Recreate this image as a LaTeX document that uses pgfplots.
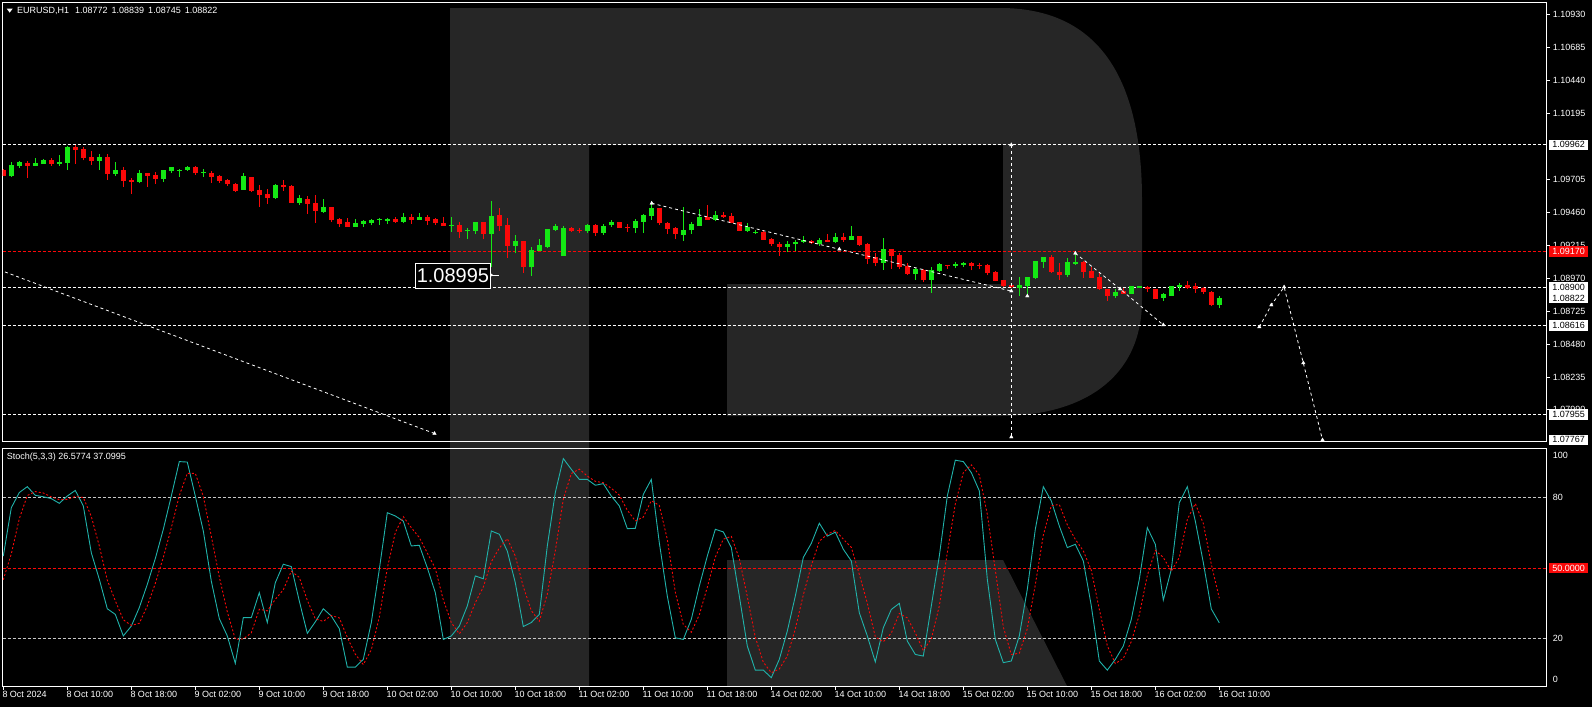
\documentclass[border=0pt]{standalone}
\usepackage{fontspec}
\setmainfont{Liberation Sans}
\usepackage{pgfplots}
\usepackage{pgfplotstable}
\pgfplotsset{compat=1.18}

\definecolor{bull}{RGB}{20,232,20}
\definecolor{bear}{RGB}{250,8,8}
\definecolor{stk}{RGB}{32,178,170}
\definecolor{wm}{RGB}{38,38,38}
\definecolor{lvl}{RGB}{200,200,200}

% EURUSD H1 candles, bar index from 8 Oct 02:00
\pgfplotstableread{
x o h l c
1 1.09728 1.09834 1.09723 1.09812
2 1.09805 1.09839 1.09792 1.09834
4 1.09807 1.09864 1.09807 1.09827
5 1.09822 1.09859 1.09822 1.09849
7 1.09822 1.09887 1.09807 1.09834
8 1.09827 1.09951 1.09777 1.09946
12 1.09842 1.09894 1.09777 1.09872
14 1.09748 1.09834 1.09733 1.09775
17 1.09688 1.09775 1.09676 1.09753
20 1.09710 1.09775 1.09688 1.09775
21 1.09770 1.09797 1.09755 1.09797
22 1.09772 1.09785 1.09725 1.09777
23 1.09777 1.09805 1.09770 1.09797
25 1.09753 1.09782 1.09725 1.09758
30 1.09629 1.09753 1.09629 1.09730
34 1.09567 1.09671 1.09559 1.09663
37 1.09532 1.09589 1.09517 1.09567
40 1.09465 1.09559 1.09457 1.09500
44 1.09353 1.09410 1.09353 1.09381
45 1.09376 1.09403 1.09353 1.09395
46 1.09383 1.09413 1.09363 1.09403
47 1.09403 1.09418 1.09368 1.09408
48 1.09398 1.09418 1.09376 1.09413
50 1.09390 1.09452 1.09378 1.09425
52 1.09405 1.09452 1.09405 1.09425
56 1.09363 1.09422 1.09316 1.09368
58 1.09321 1.09341 1.09264 1.09331
59 1.09321 1.09388 1.09301 1.09388
61 1.09301 1.09544 1.09055 1.09432
64 1.09212 1.09289 1.09155 1.09246
66 1.09050 1.09199 1.08986 1.09179
67 1.09172 1.09259 1.09172 1.09217
68 1.09202 1.09336 1.09194 1.09336
69 1.09328 1.09373 1.09323 1.09360
70 1.09137 1.09356 1.09137 1.09343
73 1.09321 1.09373 1.09308 1.09368
75 1.09306 1.09370 1.09294 1.09358
76 1.09363 1.09403 1.09353 1.09390
79 1.09346 1.09408 1.09308 1.09395
80 1.09390 1.09450 1.09308 1.09440
81 1.09432 1.09544 1.09403 1.09489
85 1.09294 1.09499 1.09249 1.09328
86 1.09326 1.09388 1.09301 1.09370
87 1.09358 1.09484 1.09358 1.09425
89 1.09403 1.09467 1.09393 1.09440
93 1.09323 1.09378 1.09316 1.09353
94 1.09308 1.09328 1.09298 1.09316
98 1.09204 1.09246 1.09167 1.09224
99 1.09222 1.09254 1.09170 1.09239
100 1.09238 1.09281 1.09228 1.09254
102 1.09224 1.09266 1.09212 1.09256
104 1.09241 1.09306 1.09232 1.09276
106 1.09256 1.09358 1.09256 1.09284
110 1.09085 1.09269 1.09033 1.09187
114 1.09001 1.09048 1.08959 1.09036
116 1.08959 1.09050 1.08862 1.09031
117 1.09023 1.09085 1.09018 1.09075
119 1.09063 1.09090 1.09043 1.09075
120 1.09068 1.09090 1.09055 1.09085
127 1.08899 1.08976 1.08837 1.08919
128 1.08912 1.08979 1.08845 1.08979
129 1.08971 1.09098 1.08966 1.09098
130 1.09093 1.09127 1.09048 1.09127
133 1.08993 1.09122 1.08981 1.09090
134 1.09078 1.09147 1.09068 1.09090
139 1.08835 1.08889 1.08825 1.08867
141 1.08852 1.08914 1.08852 1.08909
142 1.08897 1.08912 1.08897 1.08912
145 1.08822 1.08860 1.08802 1.08850
146 1.08837 1.08914 1.08837 1.08909
147 1.08904 1.08931 1.08877 1.08919
152 1.08772 1.08839 1.08745 1.08822
}\bulltab

\pgfplotstableread{
x o h l c
0 1.09777 1.09782 1.09733 1.09733
3 1.09827 1.09839 1.09715 1.09807
6 1.09849 1.09864 1.09807 1.09822
9 1.09946 1.09958 1.09822 1.09924
10 1.09931 1.09944 1.09847 1.09867
11 1.09872 1.09914 1.09815 1.09842
13 1.09872 1.09894 1.09703 1.09748
15 1.09775 1.09795 1.09651 1.09696
16 1.09703 1.09715 1.09599 1.09688
18 1.09753 1.09753 1.09651 1.09733
19 1.09738 1.09760 1.09673 1.09710
24 1.09797 1.09805 1.09740 1.09750
26 1.09753 1.09767 1.09681 1.09725
27 1.09730 1.09738 1.09681 1.09696
28 1.09701 1.09708 1.09658 1.09668
29 1.09671 1.09678 1.09614 1.09621
31 1.09723 1.09723 1.09614 1.09619
32 1.09626 1.09663 1.09502 1.09591
33 1.09596 1.09634 1.09524 1.09569
35 1.09663 1.09703 1.09621 1.09648
36 1.09656 1.09663 1.09532 1.09532
38 1.09559 1.09581 1.09450 1.09524
39 1.09529 1.09591 1.09383 1.09472
41 1.09500 1.09500 1.09390 1.09405
42 1.09410 1.09418 1.09353 1.09376
43 1.09388 1.09418 1.09353 1.09353
49 1.09410 1.09425 1.09381 1.09390
51 1.09425 1.09447 1.09375 1.09403
53 1.09427 1.09440 1.09368 1.09398
54 1.09408 1.09420 1.09365 1.09380
55 1.09383 1.09422 1.09358 1.09360
57 1.09368 1.09385 1.09271 1.09313
60 1.09388 1.09388 1.09259 1.09301
62 1.09437 1.09492 1.09323 1.09360
63 1.09365 1.09418 1.09122 1.09212
65 1.09246 1.09246 1.09011 1.09050
71 1.09343 1.09348 1.09316 1.09321
72 1.09328 1.09343 1.09303 1.09323
74 1.09368 1.09375 1.09286 1.09308
77 1.09390 1.09390 1.09346 1.09346
78 1.09351 1.09375 1.09313 1.09343
82 1.09494 1.09494 1.09365 1.09378
83 1.09383 1.09388 1.09301 1.09336
84 1.09346 1.09353 1.09261 1.09301
88 1.09425 1.09514 1.09403 1.09403
90 1.09442 1.09462 1.09418 1.09425
91 1.09432 1.09452 1.09378 1.09383
92 1.09388 1.09388 1.09323 1.09323
95 1.09316 1.09328 1.09254 1.09256
96 1.09261 1.09266 1.09209 1.09222
97 1.09226 1.09236 1.09137 1.09204
101 1.09249 1.09256 1.09224 1.09229
103 1.09256 1.09298 1.09236 1.09241
105 1.09276 1.09303 1.09241 1.09256
107 1.09284 1.09284 1.09209 1.09217
108 1.09224 1.09234 1.09075 1.09115
109 1.09125 1.09155 1.09058 1.09085
111 1.09187 1.09187 1.09041 1.09135
112 1.09145 1.09155 1.09036 1.09055
113 1.09060 1.09080 1.08993 1.09001
115 1.09031 1.09041 1.08939 1.08959
118 1.09068 1.09068 1.09038 1.09060
121 1.09085 1.09090 1.09028 1.09063
122 1.09070 1.09085 1.09036 1.09063
123 1.09068 1.09078 1.08991 1.09011
124 1.09013 1.09023 1.08946 1.08951
125 1.08956 1.08956 1.08907 1.08912
126 1.08919 1.08931 1.08894 1.08907
131 1.09127 1.09142 1.09011 1.09016
132 1.09016 1.09080 1.08959 1.08996
135 1.09090 1.09100 1.08974 1.09018
136 1.09023 1.09055 1.08974 1.08974
137 1.08979 1.09013 1.08882 1.08887
138 1.08889 1.08889 1.08802 1.08837
140 1.08872 1.08894 1.08850 1.08855
143 1.08907 1.08912 1.08864 1.08889
144 1.08889 1.08889 1.08817 1.08817
148 1.08919 1.08949 1.08892 1.08897
149 1.08909 1.08934 1.08860 1.08892
150 1.08894 1.08902 1.08855 1.08864
151 1.08866 1.08872 1.08760 1.08772
}\beartab

% Stochastic(5,3,3): main line k, signal d
\pgfplotstableread{
x k d
0 55.1 45.0
1 75.7 56.0
2 82.2 71.0
3 84.7 80.9
4 81.0 82.6
5 80.4 82.0
6 79.6 80.3
7 77.6 79.2
8 80.7 79.3
9 83.1 80.5
10 76.5 80.1
11 56.5 72.0
12 45.2 59.4
13 32.6 44.8
14 30.2 36.0
15 21.0 27.9
16 25.2 25.5
17 33.1 26.4
18 43.0 33.8
19 54.0 43.4
20 66.5 54.5
21 80.7 67.1
22 95.4 80.9
23 95.2 90.4
24 80.7 90.4
25 65.8 80.6
26 44.4 63.6
27 28.4 46.2
28 21.0 31.3
29 9.3 19.6
30 28.8 19.7
31 28.8 22.3
32 39.5 32.4
33 26.7 31.7
34 43.7 36.6
35 51.6 40.7
36 50.6 48.6
37 35.9 46.0
38 22.1 36.2
39 27.0 28.3
40 32.6 27.2
41 29.5 29.7
42 24.1 28.7
43 7.7 20.4
44 7.7 13.2
45 11.0 8.8
46 26.7 15.1
47 49.4 29.0
48 73.6 49.9
49 72.2 65.1
50 70.0 71.9
51 59.4 67.2
52 59.7 63.0
53 50.1 56.4
54 39.5 49.8
55 19.5 36.4
56 21.0 26.7
57 25.2 21.9
58 33.8 26.7
59 46.6 35.2
60 45.4 41.9
61 65.8 52.6
62 64.4 58.5
63 57.2 62.5
64 43.7 55.1
65 25.0 42.0
66 26.7 31.8
67 30.2 27.3
68 59.4 38.8
69 82.2 57.3
70 96.7 79.4
71 92.1 90.3
72 87.8 92.2
73 87.8 89.2
74 85.3 87.0
75 86.0 86.4
76 80.7 84.0
77 76.5 81.1
78 66.8 74.7
79 66.9 70.1
80 81.4 71.7
81 87.8 78.7
82 60.8 76.7
83 38.0 62.2
84 20.2 39.7
85 19.5 25.9
86 28.1 22.6
87 42.3 30.0
88 55.1 41.8
89 66.5 54.6
90 65.4 62.3
91 58.7 63.5
92 38.0 54.0
93 16.7 37.8
94 6.4 20.4
95 6.4 9.8
96 3.2 5.3
97 11.0 6.9
98 23.1 12.4
99 38.0 24.0
100 54.5 38.5
101 60.5 51.0
102 69.1 61.4
103 63.6 64.4
104 65.3 66.0
105 58.0 62.3
106 53.0 58.8
107 30.9 47.3
108 21.0 35.0
109 9.9 20.6
110 24.5 18.5
111 32.3 22.2
112 34.9 30.6
113 18.8 28.7
114 13.1 22.3
115 12.4 14.8
116 33.8 19.8
117 55.1 33.8
118 80.7 56.5
119 96.0 77.3
120 95.4 90.7
121 90.7 94.0
122 82.9 89.7
123 45.2 72.9
124 19.5 49.2
125 9.6 24.8
126 10.3 13.1
127 21.0 13.6
128 40.9 24.1
129 66.5 42.8
130 84.7 64.0
131 78.6 76.6
132 67.9 77.1
133 58.7 68.4
134 60.1 62.2
135 53.0 57.3
136 33.8 49.0
137 10.3 32.4
138 6.4 16.8
139 11.0 9.2
140 16.7 11.4
141 28.1 18.6
142 45.2 30.0
143 67.2 46.8
144 60.1 57.5
145 36.3 54.5
146 49.4 48.6
147 77.9 54.5
148 84.7 70.7
149 70.0 77.5
150 52.3 69.0
151 32.5 51.6
152 26.58 37.10
}\stochtab

\begin{document}
\begin{tikzpicture}[font=\fontsize{9}{10}\selectfont,
  lab/.style={anchor=west, text=white, inner sep=0pt, xshift=6pt},
  pbox/.style={anchor=west, fill=white, text=black, inner xsep=3pt, inner ysep=0pt, minimum height=10.5pt, xshift=2.5pt},
  lvline/.style={line width=0.8pt, dash pattern=on 3pt off 2pt},
  proj/.style={white, line width=0.8pt, dash pattern=on 3pt off 3pt},
  projmk/.style={only marks, white, mark=triangle*, mark size=2pt}]
\useasboundingbox (0,0) rectangle (1592pt,-707pt);
\fill[black] (0,0) rectangle (1592pt,-707pt);

% watermark
\fill[wm] (450pt,-8pt) -- (1000pt,-8pt) .. controls (1100pt,-8pt) and (1142pt,-80pt) .. (1142pt,-200pt)
  -- (1142pt,-300pt) .. controls (1142pt,-380pt) and (1080pt,-416pt) .. (1000pt,-416pt)
  -- (727pt,-416pt) -- (727pt,-284pt) -- (1003pt,-284pt) -- (1003pt,-145pt) -- (589pt,-145pt)
  -- (589pt,-686pt) -- (450pt,-686pt) -- cycle;
\fill[wm] (727pt,-560pt) -- (1003pt,-560pt) -- (1067pt,-686pt) -- (727pt,-686pt) -- cycle;

% price pane
\begin{axis}[at={(2.7pt,-2.7pt)}, anchor=north west,
  scale only axis, width=1544pt, height=438.3pt,
  xmin=-0.075, xmax=192.925, ymin=1.077583, ymax=1.110193,
  axis line style={white, line width=0.8pt},
  xtick=\empty,
  ytick={1.10930,1.10685,1.10440,1.10195,1.09705,1.09460,1.09215,1.08970,1.08725,1.08480,1.08235,1.07990},
  yticklabels={}, ytick pos=right, tick align=outside, major tick length=3pt,
  tick style={white, line width=0.8pt},
  clip mode=individual]

\addplot[white, lvline] coordinates {(-0.075,1.09962) (192.925,1.09962)};
\addplot[bear, lvline] coordinates {(-0.075,1.09170) (192.925,1.09170)};
\addplot[white, lvline] coordinates {(-0.075,1.08900) (192.925,1.08900)};
\addplot[white, lvline] coordinates {(-0.075,1.08616) (192.925,1.08616)};
\addplot[white, lvline] coordinates {(-0.075,1.07955) (192.925,1.07955)};

% candles: wicks then bodies
\addplot[draw=none, error bars/.cd, y dir=plus, y explicit, error mark=none,
  error bar style={draw=bull, line width=1pt}]
  table[x=x, y=l, y error plus expr=\thisrow{h}-\thisrow{l}] {\bulltab};
\addplot[draw=none, error bars/.cd, y dir=plus, y explicit, error mark=none,
  error bar style={draw=bull, line width=5pt}]
  table[x=x, y=o, y error plus expr=\thisrow{c}-\thisrow{o}] {\bulltab};
\addplot[draw=none, error bars/.cd, y dir=plus, y explicit, error mark=none,
  error bar style={draw=bear, line width=1pt}]
  table[x=x, y=l, y error plus expr=\thisrow{h}-\thisrow{l}] {\beartab};
\addplot[draw=none, error bars/.cd, y dir=plus, y explicit, error mark=none,
  error bar style={draw=bear, line width=5pt}]
  table[x=x, y=c, y error plus expr=\thisrow{o}-\thisrow{c}] {\beartab};

% projection lines
\addplot[proj] coordinates {(0.21,1.09016) (53.9,1.07814)};
\addplot[projmk] coordinates {(53.9,1.07814)};
\addplot[proj] coordinates {(81.05,1.09527) (104.5,1.09185) (126,1.08874)};
\addplot[projmk] coordinates {(81.05,1.09527) (104.5,1.09185) (126,1.08874) (128,1.08837)};
\addplot[proj] coordinates {(126,1.09962) (126,1.07788)};
\addplot[projmk] coordinates {(126,1.09962) (126,1.07788)};
\addplot[proj] coordinates {(134,1.09155) (139.6,1.08889) (145,1.08622)};
\addplot[projmk] coordinates {(134,1.09155) (139.6,1.08889) (145,1.08622)};
\addplot[proj] coordinates {(157,1.08607) (158.5,1.08770) (160.1,1.08904) (162.5,1.08339) (164.9,1.07766)};
\addplot[projmk] coordinates {(157,1.08607) (158.5,1.08770) (160.1,1.08904) (162.5,1.08339) (164.9,1.07766)};

% price scale
\node[lab] at (axis cs:192.925,1.10930) {1.10930};
\node[lab] at (axis cs:192.925,1.10685) {1.10685};
\node[lab] at (axis cs:192.925,1.10440) {1.10440};
\node[lab] at (axis cs:192.925,1.10195) {1.10195};
\node[lab] at (axis cs:192.925,1.09705) {1.09705};
\node[lab] at (axis cs:192.925,1.09460) {1.09460};
\node[lab] at (axis cs:192.925,1.09215) {1.09215};
\node[lab] at (axis cs:192.925,1.08970) {1.08970};
\node[lab] at (axis cs:192.925,1.08725) {1.08725};
\node[lab] at (axis cs:192.925,1.08480) {1.08480};
\node[lab] at (axis cs:192.925,1.08235) {1.08235};
\node[lab] at (axis cs:192.925,1.07990) {1.07990};
\node[pbox] at (axis cs:192.925,1.09962) {1.09962};
\node[pbox, fill=bear, text=white] at (axis cs:192.925,1.09170) {1.09170};
\node[pbox] at (axis cs:192.925,1.08900) {1.08900};
\node[pbox] at (axis cs:192.925,1.08822) {1.08822};
\node[pbox] at (axis cs:192.925,1.08616) {1.08616};
\node[pbox] at (axis cs:192.925,1.07955) {1.07955};
\node[pbox] at (axis cs:192.925,1.07767) {1.07767};
\end{axis}

% stochastic pane
\begin{axis}[at={(2.7pt,-448pt)}, anchor=north west,
  scale only axis, width=1544pt, height=238pt,
  xmin=-0.075, xmax=192.925, ymin=-0.37, ymax=101.2,
  axis line style={white, line width=0.8pt},
  ytick=\empty,
  xtick={0,8,...,152},
  xticklabels={8 Oct 2024,8 Oct 10:00,8 Oct 18:00,9 Oct 02:00,9 Oct 10:00,9 Oct 18:00,10 Oct 02:00,10 Oct 10:00,10 Oct 18:00,11 Oct 02:00,11 Oct 10:00,11 Oct 18:00,14 Oct 02:00,14 Oct 10:00,14 Oct 18:00,15 Oct 02:00,15 Oct 10:00,15 Oct 18:00,16 Oct 02:00,16 Oct 10:00},
  xticklabel style={anchor=north west, xshift=-2pt, text=white, inner sep=1pt},
  xtick pos=left, tick align=outside, major tick length=4pt,
  tick style={white, line width=0.8pt},
  clip mode=individual]
\addplot[lvl, lvline] coordinates {(-0.075,80) (192.925,80)};
\addplot[lvl, lvline] coordinates {(-0.075,20) (192.925,20)};
\addplot[bear, lvline] coordinates {(-0.075,50) (192.925,50)};
\addplot[stk, line width=0.9pt] table[x=x, y=k] {\stochtab};
\addplot[bear, line width=0.9pt, dash pattern=on 2pt off 2pt] table[x=x, y=d] {\stochtab};
\node[lab] at (axis cs:192.925,98.2) {100};
\node[lab] at (axis cs:192.925,80) {80};
\node[lab] at (axis cs:192.925,20) {20};
\node[lab] at (axis cs:192.925,2.6) {0};
\node[pbox, fill=bear, text=white] at (axis cs:192.925,50) {50.0000};
\end{axis}

% titles and callout
\fill[white] (6.7pt,-8.6pt) -- (12.7pt,-8.6pt) -- (9.7pt,-12.6pt) -- cycle;
\node[anchor=west, text=white, inner sep=0pt] at (17pt,-10.7pt)
  {EURUSD,H1\hspace{6pt}1.08772\hspace{4pt}1.08839\hspace{4pt}1.08745\hspace{4pt}1.08822};
\node[anchor=west, text=white, inner sep=0pt] at (6.7pt,-457.5pt) {Stoch(5,3,3) 26.5774 37.0995};
\node[draw=white, fill=black, line width=0.8pt, text=white, font=\fontsize{20}{22}\selectfont,
  inner xsep=1pt, inner ysep=0pt, minimum width=75pt, minimum height=25pt, anchor=north west]
  at (415pt,-263pt) {1.08995};
\draw[white, line width=0.8pt] (490pt,-275pt) -- (499pt,-275pt);
\fill[white] (491.5pt,-275pt) circle (1.3pt);
\end{tikzpicture}
\end{document}
